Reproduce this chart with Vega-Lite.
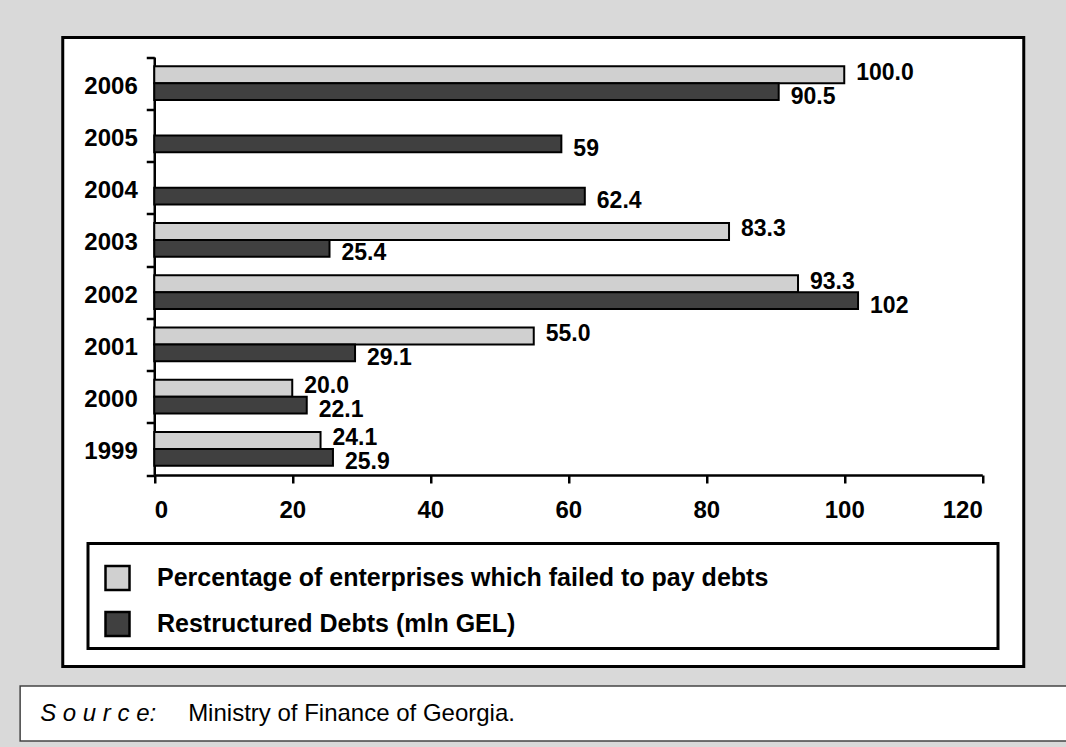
{
  "$schema": "https://vega.github.io/schema/vega-lite/v6.json",
  "background": "#d9d9d9",
  "padding": {"left": 19, "top": 23.5, "right": 0, "bottom": 7},
  "center": true,
  "spacing": 16.5,
  "config": {
    "font": "Liberation Sans",
    "view": {"stroke": null},
    "axis": {
      "labelFont": "Liberation Sans",
      "labelFontWeight": "bold",
      "labelFontSize": 24,
      "labelColor": "#000",
      "domainColor": "#000",
      "tickColor": "#000",
      "domainWidth": 2.5,
      "tickWidth": 2.5,
      "tickSize": 8,
      "grid": false
    },
    "legend": {"strokeWidth": 3}
  },
  "datasets": {
    "bars": [
      {"year": "2006", "series": "Percentage of enterprises which failed to pay debts", "value": 100.0, "label": "100.0"},
      {"year": "2006", "series": "Restructured Debts (mln GEL)", "value": 90.5, "label": "90.5"},
      {"year": "2005", "series": "Restructured Debts (mln GEL)", "value": 59, "label": "59"},
      {"year": "2004", "series": "Restructured Debts (mln GEL)", "value": 62.4, "label": "62.4"},
      {"year": "2003", "series": "Percentage of enterprises which failed to pay debts", "value": 83.3, "label": "83.3"},
      {"year": "2003", "series": "Restructured Debts (mln GEL)", "value": 25.4, "label": "25.4"},
      {"year": "2002", "series": "Percentage of enterprises which failed to pay debts", "value": 93.3, "label": "93.3"},
      {"year": "2002", "series": "Restructured Debts (mln GEL)", "value": 102, "label": "102"},
      {"year": "2001", "series": "Percentage of enterprises which failed to pay debts", "value": 55.0, "label": "55.0"},
      {"year": "2001", "series": "Restructured Debts (mln GEL)", "value": 29.1, "label": "29.1"},
      {"year": "2000", "series": "Percentage of enterprises which failed to pay debts", "value": 20.0, "label": "20.0"},
      {"year": "2000", "series": "Restructured Debts (mln GEL)", "value": 22.1, "label": "22.1"},
      {"year": "1999", "series": "Percentage of enterprises which failed to pay debts", "value": 24.1, "label": "24.1"},
      {"year": "1999", "series": "Restructured Debts (mln GEL)", "value": 25.9, "label": "25.9"}
    ],
    "source": [
      {"part": "S o u r c e:"},
      {"part": "Ministry of Finance of Georgia."}
    ]
  },
  "vconcat": [
    {
      "width": 961,
      "height": 629,
      "view": {"fill": "#ffffff", "stroke": "#000000", "strokeWidth": 3},
      "data": {"name": "bars"},
      "encoding": {
        "y": {
          "field": "year",
          "type": "nominal",
          "sort": "descending",
          "scale": {"range": [19.5, 437.5], "paddingInner": 0, "paddingOuter": 0},
          "axis": {"title": null, "offset": -91.5, "tickBand": "extent", "labelPadding": 9, "labelOffset": 3}
        },
        "yOffset": {
          "field": "series",
          "type": "nominal",
          "sort": ["Percentage of enterprises which failed to pay debts", "Restructured Debts (mln GEL)"],
          "scale": {"paddingInner": 0, "paddingOuter": 0.537}
        },
        "x": {
          "field": "value",
          "type": "quantitative",
          "scale": {"domain": [0, 120], "range": [91.5, 919.5], "nice": false},
          "axis": {"title": null, "offset": -191.5, "values": [0, 20, 40, 60, 80, 100, 120], "labelPadding": 15}
        }
      },
      "layer": [
        {
          "mark": {"type": "bar", "stroke": "#000", "strokeWidth": 2},
          "encoding": {
            "color": {
              "field": "series",
              "type": "nominal",
              "scale": {
                "domain": ["Percentage of enterprises which failed to pay debts", "Restructured Debts (mln GEL)"],
                "range": ["#d0d0d0", "#404040"]
              },
              "legend": {
                "orient": "none",
                "legendX": 68,
                "legendY": 506,
                "title": "\u200d",
                "titleFontSize": 10,
                "titlePadding": 4,
                "titleColor": "#ffffff",
                "symbolType": "square",
                "symbolSize": 576,
                "symbolOffset": 9,
                "symbolStrokeColor": "#000",
                "symbolStrokeWidth": 2.5,
                "symbolOpacity": 1,
                "labelFont": "Liberation Sans",
                "labelFontSize": 25,
                "labelFontWeight": "bold",
                "labelColor": "#000",
                "labelOffset": 26,
                "labelLimit": 2000,
                "labelExpr": "pad(datum.label, 83, '\u00a0') + '\u200d'",
                "rowPadding": 11,
                "padding": 7,
                "fillColor": "#ffffff",
                "strokeColor": "#000000"
              }
            }
          }
        },
        {
          "transform": [{"filter": "datum.series === 'Percentage of enterprises which failed to pay debts'"}],
          "mark": {"type": "text", "align": "left", "baseline": "middle", "dx": 12, "dy": -2, "fontSize": 23, "fontWeight": "bold", "font": "Liberation Sans", "color": "#000"},
          "encoding": {"text": {"field": "label", "type": "nominal"}}
        },
        {
          "transform": [{"filter": "datum.series === 'Restructured Debts (mln GEL)'"}],
          "mark": {"type": "text", "align": "left", "baseline": "middle", "dx": 12, "dy": 5, "fontSize": 23, "fontWeight": "bold", "font": "Liberation Sans", "color": "#000"},
          "encoding": {"text": {"field": "label", "type": "nominal"}}
        }
      ]
    },
    {
      "width": 1047,
      "height": 55,
      "view": {"fill": "#ffffff", "stroke": "#444444", "strokeWidth": 1.5},
      "data": {"name": "source"},
      "encoding": {
        "x": {
          "field": "part",
          "type": "nominal",
          "scale": {"type": "point", "domain": ["S o u r c e:", "Ministry of Finance of Georgia."], "range": [20, 168], "padding": 0},
          "axis": null
        },
        "text": {"field": "part", "type": "nominal"}
      },
      "layer": [
        {
          "transform": [{"filter": "datum.part === 'S o u r c e:'"}],
          "mark": {"type": "text", "align": "left", "baseline": "middle", "fontSize": 24, "fontStyle": "italic", "font": "Liberation Sans", "color": "#000"}
        },
        {
          "transform": [{"filter": "datum.part !== 'S o u r c e:'"}],
          "mark": {"type": "text", "align": "left", "baseline": "middle", "fontSize": 24, "font": "Liberation Sans", "color": "#000"}
        }
      ]
    }
  ]
}
